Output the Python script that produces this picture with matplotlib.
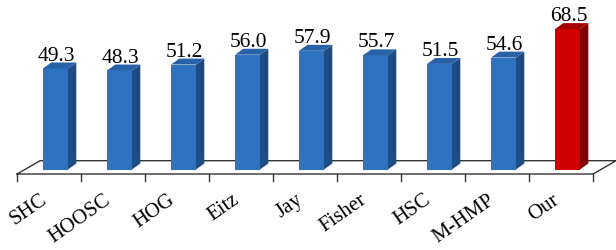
import matplotlib.pyplot as plt

# data
methods = ["SHC", "HOOSC", "HOG", "Eitz", "Jay", "Fisher", "HSC", "M-HMP", "Our"]
scores = [49.3, 48.3, 51.2, 56.0, 57.9, 55.7, 51.5, 54.6, 68.5]
highlight = "Our"

# pixel mapping (axes fill the whole figure)
W, H = 616, 251
X0, SX = 55.5, 64.0      # px of first bar centre, px per category
Y0, SY = 170.5, 2.05     # px of value 0 (from top), px per unit

# 3d look
BAR_W = 0.39
DX, DY = 0.13, 2.9       # bar depth
FX, FY = 0.36, 6.5       # floor depth
FLOOR_FRONT = -2.2

front_blue, side_blue, top_blue = "#2E73C2", "#1E4C82", "#2961A6"
front_red, side_red, top_red = "#D00000", "#7E0000", "#A30000"

plt.rcParams["font.family"] = ["Liberation Serif", "DejaVu Serif"]

fig = plt.figure(figsize=(W / 100, H / 100), dpi=100)
ax = fig.add_axes([0, 0, 1, 1])
ax.set_xlim(-X0 / SX, (W - X0) / SX)
ax.set_ylim(-(H - Y0) / SY, Y0 / SY)
ax.axis("off")

# floor
n = len(methods)
x_left = -0.5 - 0.1
x_right = x_left + n
lc = "#333333"
ax.plot([x_left, x_right, x_right + FX, x_left + FX, x_left],
        [FLOOR_FRONT, FLOOR_FRONT, FLOOR_FRONT + FY, FLOOR_FRONT + FY, FLOOR_FRONT],
        color=lc, lw=1.0, zorder=1, solid_joinstyle="miter")
for k in range(n + 1):
    ax.plot([x_left + k, x_left + k], [FLOOR_FRONT, FLOOR_FRONT - 3.4], color=lc, lw=1.0, zorder=1)

# bars
for i, (m, v) in enumerate(zip(methods, scores)):
    if m == highlight:
        fc, sc, tc = front_red, side_red, top_red
    else:
        fc, sc, tc = front_blue, side_blue, top_blue
    l, r = i - BAR_W / 2, i + BAR_W / 2
    ax.bar(i, v, width=BAR_W, color=fc, zorder=3)
    ax.fill([r, r + DX, r + DX, r], [0, DY, v + DY, v], color=sc, zorder=3, lw=0)
    ax.fill([l, r, r + DX, l + DX], [v, v, v + DY, v + DY], color=tc, zorder=3, lw=0)
    ax.text(i + 0.02, v + DY + 1.4, f"{v:.1f}", ha="center", va="baseline", fontsize=15.5, zorder=4)
    ax.text(i - 0.08, -9.8, m, ha="right", va="top", rotation=35, fontsize=15, zorder=4)

fig.savefig("out.png", dpi=100)
